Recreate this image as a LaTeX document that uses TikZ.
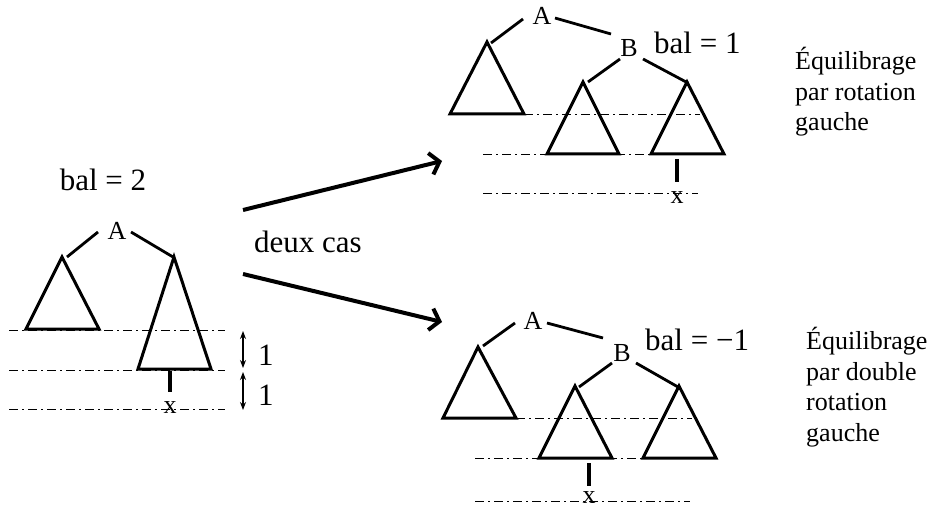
\documentclass[tikz,border=0pt]{standalone}
\usepackage{fontspec}
\setmainfont{Liberation Serif}
\usetikzlibrary{arrows.meta}
\tikzset{
  tri/.style={line width=3pt, line join=miter},
  edge/.style={line width=2.8pt},
  stem/.style={line width=3.5pt},
  dd/.style={line width=0.9pt, dash pattern=on 9pt off 4pt on 2pt off 4pt},
  bigarrow/.style={line width=4pt, -{Straight Barb[length=9pt,width=22pt]}},
  dimarrow/.style={line width=1.2pt, {Stealth[length=8pt,width=6pt]}-{Stealth[length=8pt,width=6pt]}},
  big/.style={inner sep=0pt, font=\fontsize{31}{36}\selectfont},
  lab/.style={inner sep=0pt, font=\fontsize{26}{30}\selectfont},
  side/.style={inner sep=0pt, align=left, font=\fontsize{26}{30.5}\selectfont},
}
\begin{document}
\begin{tikzpicture}[x=1pt,y=-1pt]
\path[use as bounding box] (0,0) rectangle (935,508);

% ===== left tree =====
\node[big, anchor=base] (bal2) at (103,190) {bal = 2};
\node[lab, anchor=base] (LA) at (117,239) {A};
\coordinate (L1a) at (62,257); \coordinate (L1b) at (26,329); \coordinate (L1c) at (99,329);
\coordinate (L2a) at (174,257); \coordinate (L2b) at (138,369); \coordinate (L2c) at (211,369);
\draw[tri] (L1a) -- (L1b) -- (L1c) -- cycle;
\draw[tri] (L2a) -- (L2b) -- (L2c) -- cycle;
\coordinate (LAl) at (98,232); \coordinate (LAle) at (67,257);
\coordinate (LAr) at (131,232); \coordinate (LAre) at (173,257);
\draw[edge] (LAl) -- (LAle);
\draw[edge] (LAr) -- (LAre);
\coordinate (Ld1s) at (9,330); \coordinate (Ld1e) at (225,330);
\coordinate (Ld2s) at (9,370); \coordinate (Ld2e) at (225,370);
\coordinate (Ld3s) at (9,409); \coordinate (Ld3e) at (225,409);
\draw[dd] (Ld1s) -- (Ld1e);
\draw[dd] (Ld2s) -- (Ld2e);
\draw[dd] (Ld3s) -- (Ld3e);
\coordinate (Lst) at (170,371); \coordinate (Lsb) at (170,392);
\draw[stem] (Lst) -- (Lsb);
\node[lab, anchor=base] (Lx) at (170,413) {x};
\coordinate (m1a) at (243,331); \coordinate (m1b) at (243,368);
\coordinate (m2a) at (243,372); \coordinate (m2b) at (243,410);
\draw[dimarrow] (m1a) -- (m1b);
\draw[dimarrow] (m2a) -- (m2b);
\node[big, anchor=base west] (one1) at (258,365) {1};
\node[big, anchor=base west] (one2) at (258,405) {1};

% ===== arrows =====
\coordinate (ar1s) at (243,210); \coordinate (ar1e) at (442,161);
\coordinate (ar2s) at (243,274); \coordinate (ar2e) at (442,322);
\draw[bigarrow] (ar1s) -- (ar1e);
\draw[bigarrow] (ar2s) -- (ar2e);
\node[big, anchor=base] (deux) at (308,252) {deux cas};

% ===== top-right tree =====
\node[lab, anchor=base] (TA) at (542,25) {A};
\node[lab, anchor=base] (TB) at (629,57) {B};
\node[big, anchor=base west] (bal1) at (654,54) {bal = 1};
\coordinate (T1a) at (487,42); \coordinate (T1b) at (450,114); \coordinate (T1c) at (524,114);
\coordinate (T2a) at (583,82); \coordinate (T2b) at (547,154); \coordinate (T2c) at (619,154);
\coordinate (T3a) at (687,82); \coordinate (T3b) at (651,154); \coordinate (T3c) at (724,154);
\draw[tri] (T1a) -- (T1b) -- (T1c) -- cycle;
\draw[tri] (T2a) -- (T2b) -- (T2c) -- cycle;
\draw[tri] (T3a) -- (T3b) -- (T3c) -- cycle;
\coordinate (TAl) at (523,19); \coordinate (TAle) at (491,43);
\coordinate (TAr) at (555,18); \coordinate (TAre) at (611,34);
\coordinate (TBl) at (620,59); \coordinate (TBle) at (588,82);
\coordinate (TBr) at (643,59); \coordinate (TBre) at (688,83);
\draw[edge] (TAl) -- (TAle);
\draw[edge] (TAr) -- (TAre);
\draw[edge] (TBl) -- (TBle);
\draw[edge] (TBr) -- (TBre);
\coordinate (Td1s) at (524,114); \coordinate (Td1e) at (700,114);
\coordinate (Td2s) at (483,154); \coordinate (Td2e) at (700,154);
\coordinate (Td3s) at (483,193); \coordinate (Td3e) at (698,193);
\draw[dd] (Td1s) -- (Td1e);
\draw[dd] (Td2s) -- (Td2e);
\draw[dd] (Td3s) -- (Td3e);
\coordinate (Tst) at (677,159); \coordinate (Tsb) at (677,182);
\draw[stem] (Tst) -- (Tsb);
\node[lab, anchor=base] (Tx) at (677,204) {x};
\node[side, anchor=north west] (Ttxt) at (795,47) {Équilibrage\\par rotation\\gauche};

% ===== bottom-right tree =====
\node[lab, anchor=base] (BA) at (533,329) {A};
\node[lab, anchor=base] (BB) at (622,361) {B};
\node[big, anchor=base west] (balm1) at (645,350) {bal = \char"2212 1};
\coordinate (B1a) at (478,347); \coordinate (B1b) at (443,418); \coordinate (B1c) at (516,418);
\coordinate (B2a) at (575,386); \coordinate (B2b) at (539,458); \coordinate (B2c) at (612,458);
\coordinate (B3a) at (679,386); \coordinate (B3b) at (643,458); \coordinate (B3c) at (716,458);
\draw[tri] (B1a) -- (B1b) -- (B1c) -- cycle;
\draw[tri] (B2a) -- (B2b) -- (B2c) -- cycle;
\draw[tri] (B3a) -- (B3b) -- (B3c) -- cycle;
\coordinate (BAl) at (515,323); \coordinate (BAle) at (483,346);
\coordinate (BAr) at (547,323); \coordinate (BAre) at (603,338);
\coordinate (BBl) at (612,363); \coordinate (BBle) at (579,387);
\coordinate (BBr) at (636,363); \coordinate (BBre) at (678,387);
\draw[edge] (BAl) -- (BAle);
\draw[edge] (BAr) -- (BAre);
\draw[edge] (BBl) -- (BBle);
\draw[edge] (BBr) -- (BBre);
\coordinate (Bd1s) at (516,418); \coordinate (Bd1e) at (692,418);
\coordinate (Bd2s) at (475,458); \coordinate (Bd2e) at (643,458);
\coordinate (Bd3s) at (475,501); \coordinate (Bd3e) at (690,501);
\draw[dd] (Bd1s) -- (Bd1e);
\draw[dd] (Bd2s) -- (Bd2e);
\draw[dd] (Bd3s) -- (Bd3e);
\coordinate (Bst) at (589,463); \coordinate (Bsb) at (589,486);
\draw[stem] (Bst) -- (Bsb);
\node[lab, anchor=base] (Bx) at (589,503) {x};
\node[side, anchor=north west] (Btxt) at (806,327) {Équilibrage\\par double\\rotation\\gauche};
\end{tikzpicture}
\end{document}
